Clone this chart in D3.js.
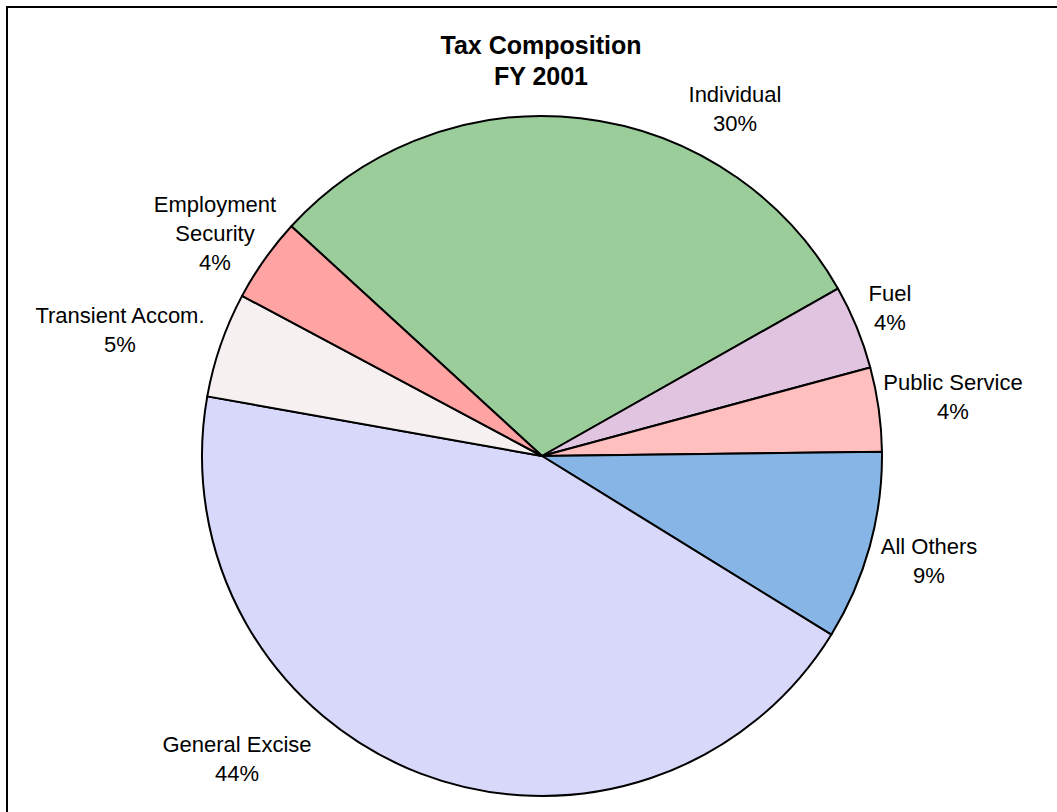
<!DOCTYPE html>
<html>
<head>
<meta charset="utf-8">
<script src="https://cdn.jsdelivr.net/npm/d3@7"></script>
<style>
  html, body { margin: 0; padding: 0; background: #fff; }
  svg { display: block; }
  text { font-family: "Liberation Sans", Arial, sans-serif; fill: #000; }
</style>
</head>
<body>
<svg id="chart" width="1057" height="812"></svg>
<script>
// Tax composition, FY 2001 (percent of total)
const categories = ["Individual", "Fuel", "Public Service", "All Others", "General Excise", "Transient Accom.", "Employment Security"];
const shares = [30, 4, 4, 9, 44, 5, 4];
const sliceColors = ["#9bcd9b", "#e0c4e0", "#ffbfbf", "#87b6e6", "#d8d8fb", "#f7f0f1", "#ffa3a3"];
// label lines as printed beside each slice
const labelLines = [["Individual"], ["Fuel"], ["Public Service"], ["All Others"], ["General Excise"], ["Transient Accom."], ["Employment", "Security"]];
const titleLines = ["Tax Composition", "FY 2001"];

const W = 1057, H = 812;
const cx = 542, cy = 456, radius = 340;
const startDeg = -47.5;

// label anchor (centre of first line) for each slice, in page pixels
const labelAnchors = [[735, 96], [890, 295], [953, 384], [929, 548], [237, 746], [120, 317], [215, 206]];
const lineGap = 29;

const svg = d3.select("#chart");

// outer frame
svg.append("rect")
  .attr("x", 7).attr("y", 7)
  .attr("width", W + 20).attr("height", H + 20)
  .attr("fill", "none").attr("stroke", "#000").attr("stroke-width", 2);

const rows = categories.map((c, i) => ({ name: c, value: shares[i], color: sliceColors[i], lines: labelLines[i] }));

const pie = d3.pie()
  .sort(null)
  .value(d => d.value)
  .startAngle(startDeg * Math.PI / 180)
  .endAngle((startDeg + 360) * Math.PI / 180);

const arc = d3.arc().innerRadius(0).outerRadius(radius);

const g = svg.append("g").attr("transform", `translate(${cx},${cy})`);
g.selectAll("path")
  .data(pie(rows))
  .join("path")
  .attr("d", arc)
  .attr("fill", d => d.data.color)
  .attr("stroke", "#000")
  .attr("stroke-width", 2)
  .attr("stroke-linejoin", "round");

// slice labels: name line(s) then percentage
const labels = svg.append("g").attr("font-size", 22).attr("text-anchor", "middle");
rows.forEach((d, i) => {
  const [lx, ly] = labelAnchors[i];
  const t = labels.append("text").attr("x", lx).attr("y", ly).attr("dominant-baseline", "middle");
  const all = d.lines.concat([d3.format("d")(d.value) + "%"]);
  all.forEach((s, k) => {
    t.append("tspan").attr("x", lx).attr("y", ly + k * lineGap).text(s);
  });
});

// title
const title = svg.append("text")
  .attr("text-anchor", "middle")
  .attr("font-size", 25)
  .attr("font-weight", "bold")
  .attr("dominant-baseline", "middle");
titleLines.forEach((s, k) => {
  title.append("tspan").attr("x", 541).attr("y", 47 + k * 31).text(s);
});
</script>
</body>
</html>
